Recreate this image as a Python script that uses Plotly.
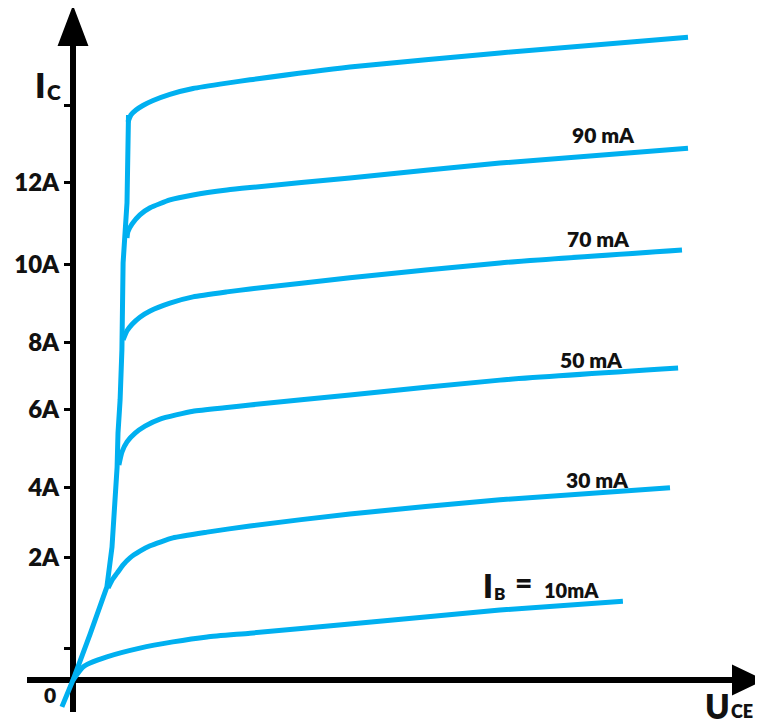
import plotly.graph_objects as go

# ---- data (U_CE in arbitrary volts, I_C in A-units as drawn) ----
env_x = [-0.37, 0, 0.57, 1.13, 1.3, 1.4, 1.47, 1.5, 1.57, 1.63, 1.67, 1.8, 1.83, 1.85]
env_y = [-0.65, 0, 1.11, 2.25, 3.21, 4.35, 5.14, 5.96, 6.76, 7.97, 10.07, 11.52, 12.31, 13.64]

ib10_x = [0, 0.33, 0.57, 1.13, 2.23, 3.33, 4.47, 5.9, 9.23, 14.23, 18.33]
ib10_y = [0, 0.31, 0.41, 0.56, 0.77, 0.92, 1.04, 1.13, 1.35, 1.69, 1.90]

ib30_x = [1.17, 1.3, 1.47, 1.67, 1.9, 2.23, 2.57, 3.33, 4.47, 5.9, 9.23, 14.23, 19.9]
ib30_y = [2.22, 2.41, 2.58, 2.78, 2.95, 3.11, 3.24, 3.43, 3.57, 3.72, 4.01, 4.35, 4.64]

ib50_x = [1.53, 1.63, 1.8, 2.07, 2.4, 2.9, 4.0, 5.13, 5.9, 9.23, 14.23, 20.17]
ib50_y = [5.19, 5.50, 5.75, 5.96, 6.13, 6.30, 6.49, 6.58, 6.64, 6.88, 7.24, 7.53]

ib70_x = [1.67, 1.8, 1.97, 2.23, 2.57, 3.23, 4.0, 5.13, 5.9, 9.23, 14.23, 20.3]
ib70_y = [8.21, 8.43, 8.59, 8.76, 8.91, 9.10, 9.25, 9.37, 9.44, 9.71, 10.07, 10.38]

ib90_x = [1.8, 1.83, 1.97, 2.23, 2.57, 3.23, 4.0, 5.13, 5.9, 9.23, 14.23, 20.5]
ib90_y = [10.67, 10.82, 11.01, 11.23, 11.40, 11.59, 11.71, 11.83, 11.89, 12.12, 12.48, 12.84]

ib110_x = [1.83, 1.93, 2.1, 2.33, 2.67, 3.23, 4.0, 5.13, 5.9, 9.23, 14.23, 20.5]
ib110_y = [13.47, 13.64, 13.76, 13.87, 13.99, 14.14, 14.28, 14.41, 14.49, 14.80, 15.14, 15.52]

ytick_vals = [0.75, 2.95, 4.64, 6.52, 8.14, 10.04, 12.0, 13.88]
ytick_text = ["", "2A", "4A", "6A", "8A", "10A", "12A", ""]

curve_labels = ["90 mA", "70 mA", "50 mA", "30 mA"]
curve_label_x = [17.67, 17.5, 17.27, 17.47]
curve_label_y = [13.16, 10.67, 7.73, 4.85]

# ---- layout geometry ----
PAGE = 8                   # browser body margin
W, H = 763 - PAGE, 722 - PAGE
OX, OY = 73 - PAGE, 680 - PAGE   # pixel of origin inside the figure
PX_X, PX_Y = 30.0, 41.42         # pixels per unit
xr = [-OX / PX_X, (W - OX) / PX_X]
yr = [-(H - OY) / PX_Y, OY / PX_Y]

CYAN = "#00B0F0"
FONT = "Lato"

fig = go.Figure()

def curve(x, y, shape="spline"):
    fig.add_trace(go.Scatter(x=x, y=y, mode="lines",
                             line=dict(color=CYAN, width=5, shape=shape, smoothing=0.5),
                             hoverinfo="skip"))

curve(env_x, env_y, shape="linear")
for xs, ys in [(ib10_x, ib10_y), (ib30_x, ib30_y), (ib50_x, ib50_y),
               (ib70_x, ib70_y), (ib90_x, ib90_y), (ib110_x, ib110_y)]:
    curve(xs, ys)

# axes lines and arrowheads (pixel offsets from the origin converted to units)
ux = 1 / PX_X
uy = 1 / PX_Y
fig.add_shape(type="line", x0=0, x1=0, y0=-32 * uy, y1=635 * uy,
              line=dict(color="black", width=6), layer="below")
fig.add_shape(type="line", x0=-46 * ux, x1=660 * ux, y0=0, y1=0,
              line=dict(color="black", width=6), layer="below")
ab = 635 * uy
at = 672 * uy
fig.add_shape(type="path",
              path=f"M {-14*ux},{ab} L {14*ux},{ab} L 0,{at} Z",
              fillcolor="black", line=dict(color="black", width=2))
xb = 660 * ux
xt = 689 * ux
fig.add_shape(type="path",
              path=f"M {xb},{-14*uy} L {xb},{14*uy} L {xt},0 Z",
              fillcolor="black", line=dict(color="black", width=2))

def txt(x, y, s, size, color="#111111", weight=800):
    fig.add_annotation(x=x, y=y, text=s, showarrow=False, xanchor="center", yanchor="middle",
                       font=dict(family=FONT, size=size, color=color, weight=weight))

for s, x, y in zip(curve_labels, curve_label_x, curve_label_y):
    txt(x, y, s, 21)

# I_B = 10mA
txt(13.83, 2.27, "I", 32)
txt(14.23, 2.08, "B", 17)
txt(15.0, 2.36, "=", 30)
txt(16.63, 2.17, "10mA", 20)
# I_C
txt(-1.1, 14.37, "I", 34)
txt(-0.63, 14.22, "C", 21)
# origin
txt(-0.77, -0.36, "0", 21)
# U_CE
txt(21.47, -0.62, "U", 33)
txt(22.3, -0.74, "CE", 18)

fig.update_layout(
    width=W, height=H, margin=dict(l=0, r=0, t=0, b=0),
    paper_bgcolor="white", plot_bgcolor="white", showlegend=False,
    xaxis=dict(range=xr, visible=False, fixedrange=True),
    yaxis=dict(range=yr, anchor="free", position=OX / W, showline=False, showgrid=False,
               zeroline=False, ticks="outside", ticklen=9, tickwidth=3, tickcolor="black",
               tickvals=ytick_vals, ticktext=ytick_text,
               tickfont=dict(family=FONT, size=24, color="#111111", weight=800),
               fixedrange=True),
)

fig.write_html("out.html")
